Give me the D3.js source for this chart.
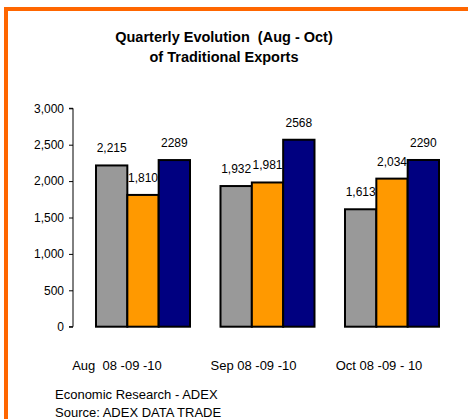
<!DOCTYPE html>
<html lang="en">
  <head>
    <meta charset="UTF-8" />
    <title>Quarterly Evolution of Traditional Exports</title>
    <script src="https://d3js.org/d3.v7.min.js"></script>
    <style>
      html, body { margin: 0; padding: 0; background: #ffffff; overflow: hidden; }
      svg { display: block; font-family: "Liberation Sans", Arial, sans-serif; }
      text { white-space: pre; }
    </style>
  </head>
  <body>
    <svg id="chart" width="468" height="419"></svg>
    <script>
      // data
      const categories = ["Aug  08 -09 -10", "Sep 08 -09 -10", "Oct 08 -09 - 10"];
      const years = ["2008", "2009", "2010"];
      const values2008 = [2215, 1932, 1613];
      const values2009 = [1810, 1981, 2034];
      const values2010 = [2289, 2568, 2290];
      const labels2008 = ["2,215", "1,932", "1,613"];
      const labels2009 = ["1,810", "1,981", "2,034"];
      const labels2010 = ["2289", "2568", "2290"];
      const yTicks = [0, 500, 1000, 1500, 2000, 2500, 3000];

      const colors = ["#999999", "#ff9900", "#000080"];
      const series = [values2008, values2009, values2010];
      const seriesLabels = [labels2008, labels2009, labels2010];

      const svg = d3.select("#chart");

      // orange frame, only its top and left edges are in view
      svg.append("rect").attr("x", 4).attr("y", 7).attr("width", 464).attr("height", 4).attr("fill", "#ff6600");
      svg.append("rect").attr("x", 4).attr("y", 7).attr("width", 4).attr("height", 412).attr("fill", "#ff6600");

      // title
      const title = svg.append("text")
        .attr("text-anchor", "middle")
        .attr("font-weight", "bold")
        .attr("font-size", "14.5px")
        .attr("fill", "#000");
      title.append("tspan").attr("x", 224).attr("y", 42).text("Quarterly Evolution  (Aug - Oct)");
      title.append("tspan").attr("x", 224).attr("y", 61.5).text("of Traditional Exports");

      const y = d3.scaleLinear().domain([0, 3000]).range([326.7, 108.3]);
      const x = d3.scaleBand()
        .domain(categories)
        .range([80.75, 454.25])
        .paddingInner(0.245)
        .paddingOuter(0.1225);
      const xs = d3.scaleBand().domain(years).range([0, x.bandwidth()]);

      // y axis
      const yAxis = d3.axisLeft(y)
        .tickValues(yTicks)
        .tickFormat(d3.format(","))
        .tickSize(4)
        .tickPadding(5);
      const ag = svg.append("g")
        .attr("transform", "translate(73,0)")
        .call(yAxis);
      ag.select(".domain").attr("stroke", "#000").attr("d", `M-4,${y(3000)}H0V${y(0)}H-4`);
      ag.selectAll(".tick line").attr("stroke", "#000");
      ag.selectAll(".tick text")
        .attr("font-size", "12px")
        .attr("font-family", "Liberation Sans, Arial, sans-serif")
        .attr("fill", "#000");

      // bars
      const groups = svg.selectAll("g.cat")
        .data(categories)
        .enter()
        .append("g")
        .attr("class", "cat")
        .attr("transform", d => `translate(${x(d)},0)`);

      groups.each(function(cat, ci) {
        const g = d3.select(this);
        years.forEach((yr, si) => {
          const v = series[si][ci];
          g.append("rect")
            .attr("x", xs(yr))
            .attr("y", y(v))
            .attr("width", xs.bandwidth())
            .attr("height", y(0) - y(v))
            .attr("fill", colors[si])
            .attr("stroke", "#000")
            .attr("stroke-width", 2);
        });
        years.forEach((yr, si) => {
          const v = series[si][ci];
          g.append("text")
            .attr("x", xs(yr) + xs.bandwidth() / 2)
            .attr("y", y(v) - 13)
            .attr("text-anchor", "middle")
            .attr("font-size", "12px")
            .attr("fill", "#000")
            .text(seriesLabels[si][ci]);
        });
      });

      // category labels (hand placed in the original, slightly left of the groups)
      const catLabelDx = [-26, -14, -13];
      svg.selectAll("text.cat-label")
        .data(categories)
        .enter()
        .append("text")
        .attr("class", "cat-label")
        .attr("x", (d, i) => x(d) + x.bandwidth() / 2 + catLabelDx[i])
        .attr("y", 370)
        .attr("text-anchor", "middle")
        .attr("font-size", "13px")
        .attr("fill", "#000")
        .text(d => d);

      // footer
      svg.append("text").attr("x", 55).attr("y", 399)
        .attr("font-size", "13px").text("Economic Research - ADEX");
      svg.append("text").attr("x", 55).attr("y", 416.5)
        .attr("font-size", "13px").text("Source: ADEX DATA TRADE");
    </script>
  </body>
</html>
